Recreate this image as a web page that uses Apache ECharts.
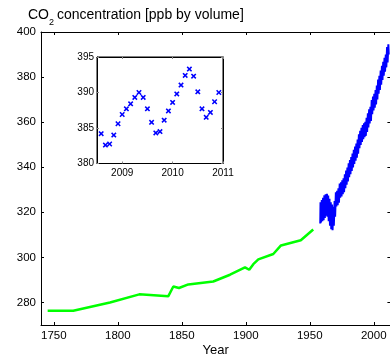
<!DOCTYPE html>
<html>
<head>
<meta charset="utf-8">
<script src="https://cdn.jsdelivr.net/npm/echarts@6/dist/echarts.min.js"></script>
<style>
html,body{margin:0;padding:0;background:#fff;}
#c{width:390px;height:356px;}
</style>
</head>
<body>
<div id="c"></div>
<script>
// Ice-core record (green)
const iceYears = [1745.2,1765.2,1793.9,1816.8,1839.5,1843.4,1847.8,1855.1,1874.6,1887.7,1899.4,1902.7,1905.9,1909.8,1921.5,1927.5,1943.0,1952.7];
const iceValues = [276.3,276.3,280.0,283.6,282.8,287.1,286.4,288.0,289.3,292.3,295.6,294.5,297.0,299.1,301.5,305.3,307.6,312.4];

// Direct measurements (blue), seasonal highs/lows
const measYears = [
1958.2,1958.4,1958.8,1959.4,1959.8,1960.4,1960.8,1961.4,1961.8,1962.4,1962.8,1963.4,1963.8,1964.4,1964.8,1965.4,1965.8,1966.4,1966.8,1967.4,1967.8,1968.4,1968.8,1969.4,1969.8,
1970.4,1970.8,1971.4,1971.8,1972.4,1972.8,1973.4,1973.8,1974.4,1974.8,1975.4,1975.8,1976.4,1976.8,1977.4,1977.8,1978.4,1978.8,1979.4,1979.8,
1980.4,1980.8,1981.4,1981.8,1982.4,1982.8,1983.4,1983.8,1984.4,1984.8,1985.4,1985.8,1986.4,1986.8,1987.4,1987.8,1988.4,1988.8,1989.4,1989.8,
1990.4,1990.8,1991.4,1991.8,1992.4,1992.8,1993.4,1993.8,1994.4,1994.8,1995.4,1995.8,1996.4,1996.8,1997.4,1997.8,1998.4,1998.8,1999.4,1999.8,
2000.4,2000.8,2001.4,2001.8,2002.4,2002.8,2003.4,2003.8,2004.4,2004.8,2005.4,2005.8,2006.4,2006.8,2007.4,2007.8,2008.4,2008.8,2009.4,2009.8,
2010.4,2010.8,2011.4,2011.7];
const measValues = [
315.0,324.5,315.5,325.5,316.0,326.5,316.5,327.5,317.5,328.0,318.5,328.2,318.0,327.5,316.0,326.0,314.0,324.5,312.5,323.5,312.0,322.5,314.0,325.0,318.0,
328.9,322.6,329.5,323.2,330.6,324.3,332.8,326.5,333.3,327.0,334.2,328.0,335.1,328.9,336.9,330.7,338.5,332.2,339.9,333.7,
341.8,335.6,343.2,336.9,344.5,338.3,346.1,339.9,347.7,341.5,349.2,342.9,350.5,344.2,352.3,346.0,354.6,348.4,356.2,349.9,
357.5,351.2,358.7,352.4,359.5,353.3,360.2,353.9,361.9,355.6,363.9,357.6,365.7,359.4,366.8,360.5,369.8,363.5,371.4,365.2,
372.6,366.4,374.2,367.9,376.3,370.1,378.9,372.6,380.6,374.3,382.9,376.6,385.0,378.7,386.8,380.6,388.6,382.4,390.0,384.3,
393.3,386.5,394.5,390.0];

// Inset: monthly values 2008-2010
const insetTimes = [2008.583,2008.667,2008.750,2008.833,2008.917,2009.000,2009.083,2009.167,2009.250,2009.333,2009.417,2009.500,2009.583,2009.667,2009.750,2009.833,2009.917,2010.000,2010.083,2010.167,2010.250,2010.333,2010.417,2010.500,2010.583,2010.667,2010.750,2010.833,2010.917];
const insetValues = [384.2,382.6,382.75,384.0,385.6,386.9,387.7,388.4,389.3,390.0,389.3,387.7,385.8,384.3,384.5,386.1,387.4,388.6,389.8,391.05,392.4,393.3,392.3,390.1,387.7,386.5,387.2,388.7,390.0];

// Tick labels
const mainXTicks = [1750,1800,1850,1900,1950,2000];
const mainYTicks = [280,300,320,340,360,380,400];
const insetXTicks = [2009,2010,2011];
const insetYTicks = [380,385,390,395];

const FONT = '"Liberation Sans", Arial, sans-serif';
const zip = (a,b) => a.map((v,i)=>[v,b[i]]);
const plain = v => String(v);

function axis(opts){
  const base = {
    type:'value',
    axisLine:{show:true,onZero:false,lineStyle:{color:'#000',width:1}},
    axisTick:{show:true,inside:true,length:3,lineStyle:{color:'#000'}},
    splitLine:{show:false},
    axisLabel:{color:'#000',fontFamily:FONT}
  };
  return Object.assign(base, opts);
}

const chart = echarts.init(document.getElementById('c'), null, {renderer:'canvas'});
chart.setOption({
  animation:false,
  backgroundColor:'#fff',
  grid:[
    {left:41,top:32,width:349.4,height:293,containLabel:false,outerBoundsMode:'none'},
    {left:97,top:57,width:126,height:106.5,containLabel:false,outerBoundsMode:'none',show:true,backgroundColor:'#fff',borderColor:'#000',borderWidth:1,z:5}
  ],
  xAxis:[
    axis({gridIndex:0,position:'bottom',min:1740,max:2013,
      axisTick:{show:true,inside:true,length:3,customValues:mainXTicks,lineStyle:{color:'#000'}},
      axisLabel:{color:'#000',fontFamily:FONT,fontSize:11.5,margin:5,customValues:mainXTicks,formatter:plain},
      name:'Year',nameLocation:'middle',nameGap:19,nameMoveOverlap:false,nameTextStyle:{color:'#000',fontFamily:FONT,fontSize:13}}),
    axis({gridIndex:0,position:'top',min:1740,max:2013,
      axisTick:{show:true,inside:true,length:3,customValues:mainXTicks,lineStyle:{color:'#000'}},
      axisLabel:{show:false}}),
    axis({gridIndex:1,position:'bottom',min:2008.5,max:2011,z:6,
      axisTick:{show:true,inside:true,length:2,customValues:insetXTicks,lineStyle:{color:'#888'}},
      axisLabel:{color:'#000',fontFamily:FONT,fontSize:10,margin:5,customValues:insetXTicks,formatter:plain}}),
    axis({gridIndex:1,position:'top',min:2008.5,max:2011,z:6,
      axisTick:{show:true,inside:true,length:2,customValues:insetXTicks,lineStyle:{color:'#888'}},
      axisLabel:{show:false}})
  ],
  yAxis:[
    axis({gridIndex:0,position:'left',min:270,max:400,
      axisTick:{show:true,inside:true,length:3,customValues:mainYTicks,lineStyle:{color:'#000'}},
      axisLabel:{color:'#000',fontFamily:FONT,fontSize:11.5,margin:5,customValues:mainYTicks,formatter:plain}}),
    axis({gridIndex:0,position:'right',min:270,max:400,
      axisTick:{show:true,inside:true,length:3,customValues:mainYTicks,lineStyle:{color:'#000'}},
      axisLabel:{show:false}}),
    axis({gridIndex:1,position:'left',min:380,max:395,z:6,
      axisTick:{show:true,inside:true,length:2,customValues:insetYTicks,lineStyle:{color:'#888'}},
      axisLabel:{color:'#000',fontFamily:FONT,fontSize:10,margin:3,customValues:insetYTicks,formatter:plain}}),
    axis({gridIndex:1,position:'right',min:380,max:395,z:6,
      axisTick:{show:true,inside:true,length:2,customValues:insetYTicks,lineStyle:{color:'#888'}},
      axisLabel:{show:false}})
  ],
  graphic:[
    {type:'text',left:28,top:8,style:{text:'CO',font:'14px '+FONT,fill:'#000'}},
    {type:'text',left:49,top:18.5,style:{text:'2',font:'9px '+FONT,fill:'#000'}},
    {type:'text',left:57,top:8,style:{text:'concentration [ppb by volume]',font:'14px '+FONT,fill:'#000'}}
  ],
  series:[
    {type:'line',xAxisIndex:0,yAxisIndex:0,data:zip(iceYears,iceValues),showSymbol:false,
      lineStyle:{color:'#00ff00',width:2.5},itemStyle:{color:'#00ff00'},z:3},
    {type:'line',xAxisIndex:0,yAxisIndex:0,data:zip(measYears,measValues),showSymbol:false,
      lineStyle:{color:'#0000ff',width:2},itemStyle:{color:'#0000ff'},z:3},
    {type:'line',xAxisIndex:2,yAxisIndex:2,data:zip(insetTimes,insetValues),
      lineStyle:{width:0,opacity:0},showSymbol:true,symbolSize:5.5,
      symbol:'path://M0,2 L2,0 L5,3 L8,0 L10,2 L7,5 L10,8 L8,10 L5,7 L2,10 L0,8 L3,5 Z',
      itemStyle:{color:'#0000ff'},z:7}
  ]
});
</script>
</body>
</html>
